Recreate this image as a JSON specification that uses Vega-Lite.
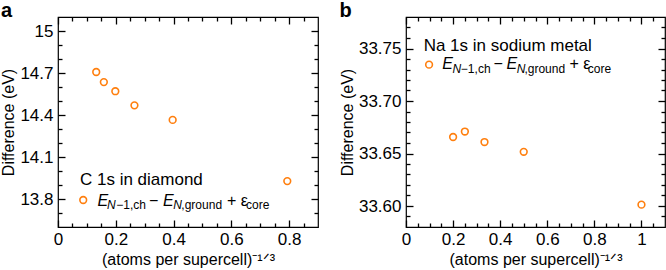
{
  "$schema": "https://vega.github.io/schema/vega-lite/v6.json",
  "padding": {"left": 0, "top": 0, "right": 0, "bottom": 0},
  "spacing": 18,
  "datasets": {
    "diamond": [
      {"x": 0.1323, "y": 14.707},
      {"x": 0.1587, "y": 14.635},
      {"x": 0.1984, "y": 14.57},
      {"x": 0.2646, "y": 14.469},
      {"x": 0.3969, "y": 14.365},
      {"x": 0.7937, "y": 13.928}
    ],
    "sodium": [
      {"x": 0.2, "y": 33.6657},
      {"x": 0.25, "y": 33.6709},
      {"x": 0.3333, "y": 33.6609},
      {"x": 0.5, "y": 33.6516},
      {"x": 1.0, "y": 33.6013}
    ],
    "one": [{}]
  },
  "config": {
    "font": "Liberation Sans",
    "view": {"stroke": "black", "strokeWidth": 1.2},
    "axis": {
      "domain": false, "grid": false, "ticks": true, "labelFlush": false, "labelOverlap": false,
      "labelFont": "Liberation Sans", "labelFontSize": 17, "labelColor": "black",
      "titleFont": "Liberation Sans", "titleFontSize": 16, "titleFontWeight": "normal", "titleColor": "black",
      "tickColor": "black", "tickWidth": 1.3, "tickOpacity": 1, "zindex": 1
    },
    "text": {"font": "Liberation Sans", "color": "black", "align": "left", "baseline": "alphabetic"},
    "title": {"font": "Liberation Sans", "fontSize": 20, "fontWeight": "bold", "anchor": "start", "frame": "bounds", "color": "black"}
  },
  "hconcat": [
    {
      "title": {"text": "a", "offset": -5},
      "width": 260,
      "height": 210,
      "resolve": {"axis": {"x": "independent", "y": "independent"}},
      "layer": [
        {
          "data": {"name": "diamond"},
          "mark": {"type": "point", "shape": "circle", "filled": false, "stroke": "#ff7f0e", "strokeWidth": 1.6, "size": 45, "opacity": 1},
          "encoding": {
            "x": {"field": "x", "type": "quantitative", "scale": {"domain": [0, 0.9], "nice": false, "zero": false},
                  "axis": {"orient": "bottom", "values": [0, 0.2, 0.4, 0.6, 0.8], "ticks": true, "tickSize": -7, "format": "~g", "labelPadding": 11, "title": "(atoms per supercell)⁻¹ᐟ³", "titlePadding": 4}},
            "y": {"field": "y", "type": "quantitative", "scale": {"domain": [13.6, 15.1], "nice": false, "zero": false},
                  "axis": {"orient": "left", "values": [13.8, 14.1, 14.4, 14.7, 15], "ticks": true, "tickSize": -7, "format": "~g", "labelPadding": 12, "title": "Difference (eV)", "titlePadding": 3}}
          }
        },
        {
          "data": {"name": "diamond"},
          "mark": {"type": "point", "opacity": 0},
          "encoding": {
            "x": {"field": "x", "type": "quantitative", "axis": {"orient": "bottom", "values": [0.05, 0.1, 0.15, 0.25, 0.3, 0.35, 0.45, 0.5, 0.55, 0.65, 0.7, 0.75, 0.85], "ticks": true, "tickSize": -4, "labels": false, "title": null}},
            "y": {"field": "y", "type": "quantitative", "axis": {"orient": "left", "values": [13.7, 13.9, 14.0, 14.2, 14.3, 14.5, 14.6, 14.8, 14.9], "ticks": true, "tickSize": -4, "labels": false, "title": null}}
          }
        },
        {
          "data": {"name": "diamond"},
          "mark": {"type": "point", "opacity": 0},
          "encoding": {
            "x": {"field": "x", "type": "quantitative", "axis": {"orient": "top", "values": [0, 0.2, 0.4, 0.6, 0.8], "ticks": true, "tickSize": -7, "labels": false, "title": null}},
            "y": {"field": "y", "type": "quantitative", "axis": {"orient": "right", "values": [13.8, 14.1, 14.4, 14.7, 15], "ticks": true, "tickSize": -7, "labels": false, "title": null}}
          }
        },
        {
          "data": {"name": "diamond"},
          "mark": {"type": "point", "opacity": 0},
          "encoding": {
            "x": {"field": "x", "type": "quantitative", "axis": {"orient": "top", "values": [0.05, 0.1, 0.15, 0.25, 0.3, 0.35, 0.45, 0.5, 0.55, 0.65, 0.7, 0.75, 0.85], "ticks": true, "tickSize": -4, "labels": false, "title": null}},
            "y": {"field": "y", "type": "quantitative", "axis": {"orient": "right", "values": [13.7, 13.9, 14.0, 14.2, 14.3, 14.5, 14.6, 14.8, 14.9], "ticks": true, "tickSize": -4, "labels": false, "title": null}}
          }
        },
        {
          "data": {"name": "one"},
          "mark": {"type": "text", "text": "C 1s in diamond", "fontSize": 17},
          "encoding": {"x": {"datum": 0.076, "axis": null}, "y": {"datum": 13.901, "axis": null}}
        },
        {
          "data": {"name": "one"},
          "mark": {"type": "point", "shape": "circle", "filled": false, "stroke": "#ff7f0e", "strokeWidth": 1.6, "size": 45, "opacity": 1},
          "encoding": {"x": {"datum": 0.0873, "axis": null}, "y": {"datum": 13.793, "axis": null}}
        },
        {
          "data": {"name": "one"},
          "mark": {"type": "text", "text": "E", "fontSize": 16, "fontStyle": "italic"},
          "encoding": {"x": {"datum": 0.1365, "axis": null}, "y": {"datum": 13.7516, "axis": null}}
        },
        {
          "data": {"name": "one"},
          "mark": {"type": "text", "text": "N", "fontSize": 12, "fontStyle": "italic"},
          "encoding": {"x": {"datum": 0.170, "axis": null}, "y": {"datum": 13.7277, "axis": null}}
        },
        {
          "data": {"name": "one"},
          "mark": {"type": "text", "text": "−1,ch", "fontSize": 12},
          "encoding": {"x": {"datum": 0.202, "axis": null}, "y": {"datum": 13.7277, "axis": null}}
        },
        {
          "data": {"name": "one"},
          "mark": {"type": "text", "text": "−", "fontSize": 16},
          "encoding": {"x": {"datum": 0.315, "axis": null}, "y": {"datum": 13.7516, "axis": null}}
        },
        {
          "data": {"name": "one"},
          "mark": {"type": "text", "text": "E", "fontSize": 16, "fontStyle": "italic"},
          "encoding": {"x": {"datum": 0.3635, "axis": null}, "y": {"datum": 13.7516, "axis": null}}
        },
        {
          "data": {"name": "one"},
          "mark": {"type": "text", "text": "N", "fontSize": 12, "fontStyle": "italic"},
          "encoding": {"x": {"datum": 0.399, "axis": null}, "y": {"datum": 13.7277, "axis": null}}
        },
        {
          "data": {"name": "one"},
          "mark": {"type": "text", "text": ",ground", "fontSize": 12},
          "encoding": {"x": {"datum": 0.427, "axis": null}, "y": {"datum": 13.7277, "axis": null}}
        },
        {
          "data": {"name": "one"},
          "mark": {"type": "text", "text": "+ ε", "fontSize": 16},
          "encoding": {"x": {"datum": 0.585, "axis": null}, "y": {"datum": 13.7516, "axis": null}}
        },
        {
          "data": {"name": "one"},
          "mark": {"type": "text", "text": "core", "fontSize": 12},
          "encoding": {"x": {"datum": 0.651, "axis": null}, "y": {"datum": 13.7277, "axis": null}}
        }
      ]
    },
    {
      "title": {"text": "b", "offset": -5},
      "width": 259,
      "height": 210,
      "resolve": {"axis": {"x": "independent", "y": "independent"}},
      "layer": [
        {
          "data": {"name": "sodium"},
          "mark": {"type": "point", "shape": "circle", "filled": false, "stroke": "#ff7f0e", "strokeWidth": 1.6, "size": 45, "opacity": 1},
          "encoding": {
            "x": {"field": "x", "type": "quantitative", "scale": {"domain": [0, 1.1], "nice": false, "zero": false},
                  "axis": {"orient": "bottom", "values": [0, 0.2, 0.4, 0.6, 0.8, 1], "ticks": true, "tickSize": -7, "format": "~g", "labelPadding": 11, "title": "(atoms per supercell)⁻¹ᐟ³", "titlePadding": 4}},
            "y": {"field": "y", "type": "quantitative", "scale": {"domain": [33.58, 33.78], "nice": false, "zero": false},
                  "axis": {"orient": "left", "values": [33.6, 33.65, 33.7, 33.75], "ticks": true, "tickSize": -7, "format": ".2f", "labelPadding": 12, "title": "Difference (eV)", "titlePadding": 3}}
          }
        },
        {
          "data": {"name": "sodium"},
          "mark": {"type": "point", "opacity": 0},
          "encoding": {
            "x": {"field": "x", "type": "quantitative", "axis": {"orient": "bottom", "values": [0.05, 0.1, 0.15, 0.25, 0.3, 0.35, 0.45, 0.5, 0.55, 0.65, 0.7, 0.75, 0.85, 0.9, 0.95, 1.05], "ticks": true, "tickSize": -4, "labels": false, "title": null}},
            "y": {"field": "y", "type": "quantitative", "axis": {"orient": "left", "values": [33.59, 33.61, 33.62, 33.63, 33.64, 33.66, 33.67, 33.68, 33.69, 33.71, 33.72, 33.73, 33.74, 33.76, 33.77], "ticks": true, "tickSize": -4, "labels": false, "title": null}}
          }
        },
        {
          "data": {"name": "sodium"},
          "mark": {"type": "point", "opacity": 0},
          "encoding": {
            "x": {"field": "x", "type": "quantitative", "axis": {"orient": "top", "values": [0, 0.2, 0.4, 0.6, 0.8, 1], "ticks": true, "tickSize": -7, "labels": false, "title": null}},
            "y": {"field": "y", "type": "quantitative", "axis": {"orient": "right", "values": [33.6, 33.65, 33.7, 33.75], "ticks": true, "tickSize": -7, "labels": false, "title": null}}
          }
        },
        {
          "data": {"name": "sodium"},
          "mark": {"type": "point", "opacity": 0},
          "encoding": {
            "x": {"field": "x", "type": "quantitative", "axis": {"orient": "top", "values": [0.05, 0.1, 0.15, 0.25, 0.3, 0.35, 0.45, 0.5, 0.55, 0.65, 0.7, 0.75, 0.85, 0.9, 0.95, 1.05], "ticks": true, "tickSize": -4, "labels": false, "title": null}},
            "y": {"field": "y", "type": "quantitative", "axis": {"orient": "right", "values": [33.59, 33.61, 33.62, 33.63, 33.64, 33.66, 33.67, 33.68, 33.69, 33.71, 33.72, 33.73, 33.74, 33.76, 33.77], "ticks": true, "tickSize": -4, "labels": false, "title": null}}
          }
        },
        {
          "data": {"name": "one"},
          "mark": {"type": "text", "text": "Na 1s in sodium metal", "fontSize": 17},
          "encoding": {"x": {"datum": 0.075, "axis": null}, "y": {"datum": 33.7477, "axis": null}}
        },
        {
          "data": {"name": "one"},
          "mark": {"type": "point", "shape": "circle", "filled": false, "stroke": "#ff7f0e", "strokeWidth": 1.6, "size": 45, "opacity": 1},
          "encoding": {"x": {"datum": 0.098, "axis": null}, "y": {"datum": 33.7346, "axis": null}}
        },
        {
          "data": {"name": "one"},
          "mark": {"type": "text", "text": "E", "fontSize": 16, "fontStyle": "italic"},
          "encoding": {"x": {"datum": 0.154, "axis": null}, "y": {"datum": 33.7301, "axis": null}}
        },
        {
          "data": {"name": "one"},
          "mark": {"type": "text", "text": "N", "fontSize": 12, "fontStyle": "italic"},
          "encoding": {"x": {"datum": 0.197, "axis": null}, "y": {"datum": 33.7269, "axis": null}}
        },
        {
          "data": {"name": "one"},
          "mark": {"type": "text", "text": "−1,ch", "fontSize": 12},
          "encoding": {"x": {"datum": 0.233, "axis": null}, "y": {"datum": 33.7269, "axis": null}}
        },
        {
          "data": {"name": "one"},
          "mark": {"type": "text", "text": "−", "fontSize": 16},
          "encoding": {"x": {"datum": 0.372, "axis": null}, "y": {"datum": 33.7301, "axis": null}}
        },
        {
          "data": {"name": "one"},
          "mark": {"type": "text", "text": "E", "fontSize": 16, "fontStyle": "italic"},
          "encoding": {"x": {"datum": 0.427, "axis": null}, "y": {"datum": 33.7301, "axis": null}}
        },
        {
          "data": {"name": "one"},
          "mark": {"type": "text", "text": "N", "fontSize": 12, "fontStyle": "italic"},
          "encoding": {"x": {"datum": 0.470, "axis": null}, "y": {"datum": 33.7269, "axis": null}}
        },
        {
          "data": {"name": "one"},
          "mark": {"type": "text", "text": ",ground", "fontSize": 12},
          "encoding": {"x": {"datum": 0.503, "axis": null}, "y": {"datum": 33.7269, "axis": null}}
        },
        {
          "data": {"name": "one"},
          "mark": {"type": "text", "text": "+ ε", "fontSize": 16},
          "encoding": {"x": {"datum": 0.694, "axis": null}, "y": {"datum": 33.7301, "axis": null}}
        },
        {
          "data": {"name": "one"},
          "mark": {"type": "text", "text": "core", "fontSize": 12},
          "encoding": {"x": {"datum": 0.772, "axis": null}, "y": {"datum": 33.7269, "axis": null}}
        }
      ]
    }
  ]
}
